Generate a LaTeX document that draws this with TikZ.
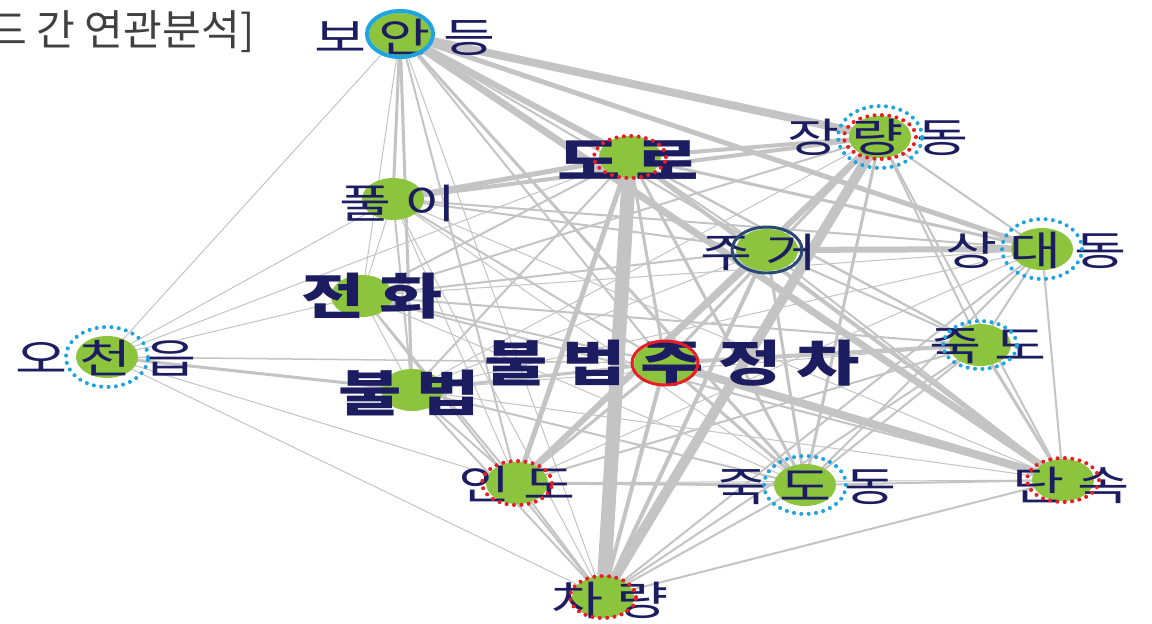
\documentclass[tikz,border=0pt]{standalone}
\usepackage{fontspec}
\usepackage{xcolor}
\usepackage{tikz}
\newfontfamily\kr[FakeStretch=1.4,LetterSpace=30]{Noto Sans CJK KR}
\newfontfamily\krhead{Noto Sans CJK KR}
\definecolor{edgegray}{RGB}{196,196,196}
\definecolor{dotgreen}{RGB}{141,196,62}
\definecolor{labelnavy}{RGB}{28,28,96}
\definecolor{ringcyan}{RGB}{30,165,225}
\definecolor{ringred}{RGB}{232,30,36}
\definecolor{ringnavy}{RGB}{40,72,118}
\definecolor{headgray}{RGB}{64,64,64}

\begin{document}
\begin{tikzpicture}[x=0.02cm, y=-0.02cm,
  edge/.style={draw=edgegray},
  dot/.style={fill=dotgreen},
  word/.style={text=labelnavy, font=\kr\fontsize{23}{26}\selectfont, inner sep=0pt},
  bigword/.style={text=labelnavy, font=\kr\fontsize{28}{32}\selectfont\bfseries, inner sep=0pt},
  bluedots/.style={draw=ringcyan, line width=2.3pt, dash pattern=on 0pt off 4.2pt, line cap=round},
  reddots/.style={draw=ringred, line width=2.3pt, dash pattern=on 0pt off 4.2pt, line cap=round}]

\useasboundingbox (0,0) rectangle (1152,623);
\fill[white] (0,0) rectangle (1152,623);

% keyword positions
\coordinate (boan) at (400,34);
\coordinate (jang) at (880,137);
\coordinate (doro) at (630,157);
\coordinate (puri) at (393,199);
\coordinate (jugeo) at (767,250);
\coordinate (sangdae) at (1042,249);
\coordinate (jeonhwa) at (362,296);
\coordinate (ocheon) at (107,357);
\coordinate (jujeong) at (665,363);
\coordinate (jukdo) at (980,345);
\coordinate (bulbeop) at (412,390);
\coordinate (indo) at (517,483);
\coordinate (jukdodong) at (805,485);
\coordinate (dansok) at (1063,480);
\coordinate (charyang) at (603,597);

% links, width in px
\foreach \a/\b/\w in {boan/jang/8, boan/dansok/7, boan/doro/6, boan/sangdae/5, boan/puri/3,
  boan/bulbeop/3, boan/jukdodong/3, boan/indo/2, boan/jugeo/2, boan/jujeong/2, boan/ocheon/1,
  boan/jeonhwa/1, boan/jukdo/2, boan/charyang/1,
  doro/charyang/14, doro/indo/5, doro/puri/5, doro/jang/4, doro/jujeong/3, doro/jukdodong/3,
  doro/sangdae/3, doro/dansok/4, doro/jeonhwa/2, doro/bulbeop/2, doro/jukdo/2, doro/jugeo/2, doro/ocheon/1,
  jang/charyang/10, jang/indo/6, jang/puri/4, jang/jujeong/3, jang/jukdodong/3, jang/sangdae/2,
  jang/jukdo/2, jang/dansok/2, jang/jeonhwa/2, jang/bulbeop/1,
  jugeo/sangdae/6, jugeo/charyang/4, jugeo/jukdodong/3, jugeo/indo/3, jugeo/dansok/2, jugeo/puri/2,
  jugeo/jeonhwa/2, jugeo/jukdo/2, jugeo/bulbeop/1,
  sangdae/jukdo/2, sangdae/dansok/2, sangdae/jukdodong/2, sangdae/charyang/2, sangdae/indo/1,
  sangdae/bulbeop/1, sangdae/puri/2, sangdae/jeonhwa/1,
  jeonhwa/jujeong/2, jeonhwa/dansok/2, jeonhwa/jukdo/2, jeonhwa/indo/2, jeonhwa/charyang/2,
  jeonhwa/ocheon/1, jeonhwa/bulbeop/1, jeonhwa/jukdodong/1,
  ocheon/bulbeop/3, ocheon/jujeong/1.5, ocheon/indo/1, ocheon/charyang/1, ocheon/puri/1,
  jujeong/dansok/8, jujeong/jukdo/4, jujeong/indo/3, jujeong/charyang/4, jujeong/jukdodong/3,
  jujeong/bulbeop/3, jujeong/puri/2,
  jukdo/dansok/3, jukdo/jukdodong/2, jukdo/indo/2, jukdo/charyang/2, jukdo/bulbeop/1,
  bulbeop/indo/2, bulbeop/charyang/2, bulbeop/jukdodong/2, bulbeop/dansok/1, bulbeop/puri/2,
  indo/jukdodong/3, indo/charyang/2, indo/dansok/1,
  jukdodong/dansok/2, jukdodong/charyang/2, dansok/charyang/2,
  puri/jeonhwa/1, puri/indo/1, puri/charyang/1, puri/jukdodong/1, puri/dansok/1}
  \draw[edge, line width=\w*0.57pt] (\a) -- (\b);

% green dots
\foreach \n in {boan,jang,doro,puri,jugeo,sangdae,jeonhwa,ocheon,jujeong,jukdo,bulbeop,indo,jukdodong,dansok,charyang}
  \fill[dot] (\n) ellipse [x radius=0.62cm, y radius=0.42cm];

% keywords
\node[word] (boanlbl) at (405,37) {보안등};
\node[word] (janglbl) at (878,137) {장량동};
\node[bigword] (dorolbl) at (628,160) {도로};
\node[word] (purilbl) at (398,203) {풀이};
\node[word] (jugeolbl) at (759,252) {주거};
\node[word] (sangdaelbl) at (1036,250) {상대동};
\node[bigword] (jeonhwalbl) at (372,296) {전화};
\node[word] (ocheonlbl) at (106,358) {오천읍};
\node[bigword] (jujeonglbl) at (672,363) {불법주정차};
\node[word] (jukdolbl) at (988,346) {죽도};
\node[bigword] (bulbeoplbl) at (409,393) {불법};
\node[word] (indolbl) at (517,484) {인도};
\node[word] (jukdodonglbl) at (806,487) {죽도동};
\node[word] (dansoklbl) at (1071,485) {단속};
\node[word] (charyanglbl) at (610,600) {차량};

% rings
\draw[ringcyan, line width=2.3pt] (boan) ellipse [x radius=0.66cm, y radius=0.46cm];
\draw[bluedots] (jang) ellipse [x radius=0.84cm, y radius=0.62cm];
\draw[reddots] (jang) ellipse [x radius=0.72cm, y radius=0.44cm];
\draw[reddots] (doro) ellipse [x radius=0.72cm, y radius=0.42cm];
\draw[ringnavy, line width=1.7pt] (jugeo) ellipse [x radius=0.7cm, y radius=0.46cm];
\draw[bluedots] (sangdae) ellipse [x radius=0.8cm, y radius=0.6cm];
\draw[bluedots] (ocheon) ellipse [x radius=0.82cm, y radius=0.6cm];
\draw[ringred, line width=1.7pt] (jujeong) ellipse [x radius=0.66cm, y radius=0.44cm];
\draw[bluedots] (jukdo) ellipse [x radius=0.74cm, y radius=0.48cm];
\draw[reddots] (indo) ellipse [x radius=0.7cm, y radius=0.44cm];
\draw[bluedots] (jukdodong) ellipse [x radius=0.82cm, y radius=0.58cm];
\draw[reddots] (dansok) ellipse [x radius=0.72cm, y radius=0.44cm];
\draw[reddots] (charyang) ellipse [x radius=0.66cm, y radius=0.42cm];

% cut title
\node[anchor=west, text=headgray, font=\krhead\fontsize{24}{28}\selectfont, inner sep=0pt] (head) at (-12,32) {드 간 연관분석]};

\end{tikzpicture}
\end{document}
